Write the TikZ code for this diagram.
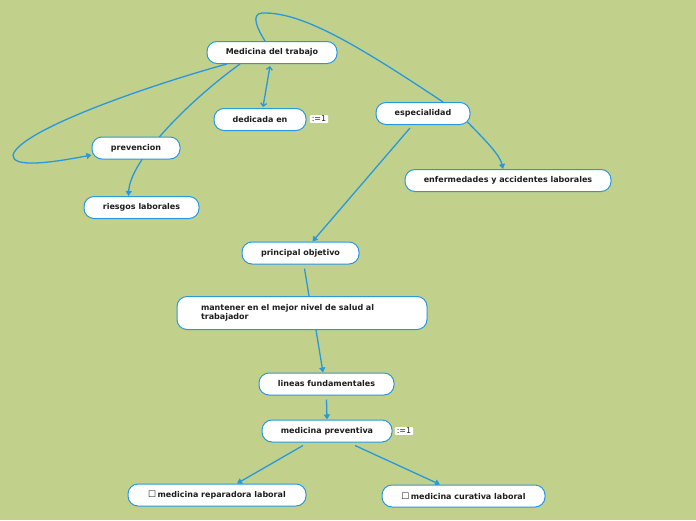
\documentclass[tikz,border=0pt]{standalone}
\usepackage{fontspec}
\setmainfont{DejaVu Sans}
\usetikzlibrary{arrows.meta,calc}
\definecolor{bg}{RGB}{193,209,140}
\definecolor{ln}{RGB}{40,152,222}
\definecolor{txt}{RGB}{30,30,30}
\pgfdeclarelayer{back}
\pgfsetlayers{back,main}
\begin{document}
\begin{tikzpicture}[x=1pt,y=-1pt,
  box/.style={draw=ln, fill=white, line width=1pt, rounded corners=10pt, minimum height=22pt, font=\bfseries\fontsize{8}{9.5}\selectfont, text=txt, inner sep=2pt},
  conn/.style={draw=ln, line width=1.3pt, -{Triangle[length=5pt,width=6pt]}},
  plain/.style={draw=ln, line width=1.3pt},
  tag/.style={fill=white, font=\fontsize{8}{9}\selectfont, inner xsep=2pt, inner ysep=1pt, text=txt, rounded corners=1pt}]
\useasboundingbox (0,0) rectangle (696,520);

\node[box, minimum width=130pt] (med) at (272,52.5) {Medicina del trabajo};
\node[box, minimum width=92pt] (ded) at (260,119.5) {dedicada en};
\node[tag] (t1) at (319,119) {:=1};
\node[box, minimum width=94pt] (esp) at (423,113.5) {especialidad};
\node[box, minimum width=88pt] (prv) at (136,148) {prevencion};
\node[box, minimum width=115pt] (rsk) at (141.5,207.5) {riesgos laborales};
\node[box, minimum width=206pt] (enf) at (508,180.5) {enfermedades y accidentes laborales};
\node[box, minimum width=117pt] (prin) at (300.5,253) {principal objetivo};
\node[box, minimum height=33pt, text width=202pt, inner xsep=24pt, align=left] (mant) at (302,313) {mantener en el mejor nivel de salud al\\trabajador};
\node[box, minimum width=135pt] (lin) at (326.5,384) {lineas fundamentales};
\node[box, minimum width=130pt] (mp) at (327,431) {medicina preventiva};
\node[tag] (t2) at (404,431) {:=1};
\node[box, minimum width=178pt] (rep) at (217,495) {{\mdseries\fontsize{9}{9}\selectfont ☐}\,medicina reparadora laboral};
\node[box, minimum width=163pt] (cur) at (463.5,496) {{\mdseries\fontsize{9}{9}\selectfont ☐}\,medicina curativa laboral};

\begin{pgfonlayer}{back}
\fill[bg] (0,0) rectangle (696,520);
\draw[plain, {Straight Barb[length=3pt,width=6pt]}-{Straight Barb[length=3pt,width=6pt]}] ($(med.south)+(-2,2)$) -- ($(ded.north)+(3,-1)$);
\draw[conn] ($(med.south)+(-45,0)$) .. controls (150,85) and (20,130) .. (13,155) .. controls (12,168) and (50,163) .. ($(prv.west)+(0,7)$);
\draw[conn] ($(med.south)+(-32,0)$) .. controls (190,100) and (130,160) .. ($(rsk.north)+(-13,0)$);
\draw[plain] ($(esp.north)+(20,0)$) .. controls (350,40) and (300,12) .. (262,13) .. controls (250,14) and (258,30) .. ($(med.north)+(-7,0)$);
\draw[conn] ($(esp.south east)+(-3,-3)$) .. controls (485,140) and (500,155) .. ($(enf.north)+(-5,0)$);
\draw[conn] ($(esp.south)+(-13,3)$) -- ($(prin.north)+(12,0)$);
\draw[plain] ($(prin.south)+(4,4)$) -- ($(mant.north)+(7,0)$);
\draw[conn] ($(mant.south)+(14,0)$) -- ($(lin.north)+(-3.5,0)$);
\draw[conn] ($(lin.south)+(0,4)$) -- (mp.north);
\draw[conn] ($(mp.south)+(-24,3)$) -- ($(rep.north)+(20,0)$);
\draw[conn] ($(mp.south)+(28,3)$) -- ($(cur.north)+(-23.5,0)$);
\end{pgfonlayer}
\end{tikzpicture}
\end{document}
